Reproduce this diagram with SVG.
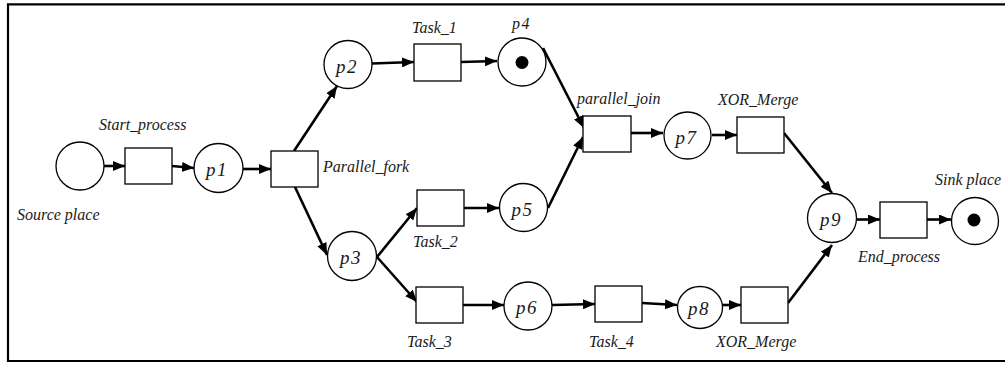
<svg xmlns="http://www.w3.org/2000/svg" width="1005" height="365" viewBox="0 0 1005 365">
<style>
.pl{fill:#fff;stroke:#000;stroke-width:1.3}
.tr{fill:#fff;stroke:#000;stroke-width:1.3}
.tk{fill:#000}
.lb{font-family:"Liberation Serif","Times New Roman",serif;font-style:italic;font-size:16px;fill:#1a1a1a}
.pn{font-family:"Liberation Serif","Times New Roman",serif;font-style:italic;font-size:19px;fill:#1a1a1a;text-anchor:middle;letter-spacing:1.5px}
.ar{stroke:#000;stroke-width:2.6;fill:none;marker-end:url(#ah)}
</style>
<defs>
<marker id="ah" markerUnits="userSpaceOnUse" markerWidth="12" markerHeight="10" refX="12" refY="5" orient="auto">
<path d="M0,0 L12,5 L0,10 Z" fill="#000"/>
</marker>
</defs>
<rect width="1005" height="365" fill="#fff"/>
<path d="M1005,4.3 H8 V361 H1005" fill="none" stroke="#000" stroke-width="2.2"/>

<g id="connectors">
<line class="ar" x1="104" y1="166" x2="125" y2="166"/>
<line class="ar" x1="172" y1="166" x2="194" y2="168"/>
<line class="ar" x1="243" y1="169" x2="271" y2="169"/>
<line class="ar" x1="294" y1="151" x2="337" y2="86"/>
<line class="ar" x1="295" y1="187" x2="327" y2="255"/>
<line class="ar" x1="372" y1="63.5" x2="414" y2="62"/>
<line class="ar" x1="461" y1="62" x2="497" y2="61"/>
<line class="ar" x1="543" y1="48" x2="584" y2="128"/>
<line class="ar" x1="548" y1="208" x2="583" y2="137"/>
<line class="ar" x1="631" y1="133" x2="663" y2="133"/>
<line class="ar" x1="712" y1="135" x2="737" y2="135"/>
<line class="ar" x1="784" y1="133" x2="832" y2="193"/>
<line class="ar" x1="377" y1="257" x2="417" y2="208"/>
<line class="ar" x1="377" y1="257" x2="417" y2="302"/>
<line class="ar" x1="464" y1="208" x2="499" y2="208"/>
<line class="ar" x1="463" y1="305" x2="504" y2="305"/>
<line class="ar" x1="552" y1="305" x2="595" y2="304"/>
<line class="ar" x1="642" y1="303" x2="677" y2="305"/>
<line class="ar" x1="722" y1="305" x2="741" y2="305"/>
<line class="ar" x1="788" y1="303" x2="832" y2="245"/>
<line class="ar" x1="857" y1="219.5" x2="880" y2="219.5"/>
<line class="ar" x1="927" y1="219.5" x2="951" y2="219.5"/>
</g>

<g id="source_place">
<circle class="pl" cx="80" cy="166" r="24"/>
<text class="lb" x="17" y="220">Source place</text>
</g>
<g id="start_process">
<rect class="tr" x="125" y="148" width="47" height="36"/>
<text class="lb" x="99" y="130">Start_process</text>
</g>
<g id="p1">
<circle class="pl" cx="218.5" cy="168" r="24.5"/>
<text class="pn" x="217" y="176">p1</text>
</g>
<g id="parallel_fork">
<rect class="tr" x="271" y="151" width="47" height="36"/>
<text class="lb" x="323" y="172">Parallel_fork</text>
</g>
<g id="p2">
<circle class="pl" cx="348" cy="64.5" r="24"/>
<text class="pn" x="347" y="72.5">p2</text>
</g>
<g id="task_1">
<rect class="tr" x="414" y="44" width="47" height="37"/>
<text class="lb" x="412" y="33">Task_1</text>
</g>
<g id="p4">
<circle class="pl" cx="522" cy="62" r="24"/>
<circle class="tk" cx="522" cy="62.5" r="6.5"/>
<text class="lb" x="512" y="29" style="letter-spacing:1.5px">p4</text>
</g>
<g id="p3">
<circle class="pl" cx="352" cy="256" r="24.5"/>
<text class="pn" x="351" y="264">p3</text>
</g>
<g id="task_2">
<rect class="tr" x="417" y="190" width="47" height="36"/>
<text class="lb" x="413" y="247">Task_2</text>
</g>
<g id="p5">
<circle class="pl" cx="523.5" cy="207.5" r="24"/>
<text class="pn" x="522.5" y="215.5">p5</text>
</g>
<g id="parallel_join">
<rect class="tr" x="583" y="116" width="48" height="36"/>
<text class="lb" x="577" y="104">parallel_join</text>
</g>
<g id="p7">
<circle class="pl" cx="687.5" cy="135.5" r="23.5"/>
<text class="pn" x="686.5" y="143.5">p7</text>
</g>
<g id="xor_merge_top">
<rect class="tr" x="737" y="117" width="47" height="36"/>
<text class="lb" x="718" y="105">XOR_Merge</text>
</g>
<g id="task_3">
<rect class="tr" x="416" y="287" width="47" height="36"/>
<text class="lb" x="407" y="347">Task_3</text>
</g>
<g id="p6">
<circle class="pl" cx="528" cy="306" r="24"/>
<text class="pn" x="527" y="314">p6</text>
</g>
<g id="task_4">
<rect class="tr" x="595" y="286" width="47" height="36"/>
<text class="lb" x="589" y="347">Task_4</text>
</g>
<g id="p8">
<ellipse class="pl" cx="700" cy="307.5" rx="22.5" ry="21"/>
<text class="pn" x="699" y="315">p8</text>
</g>
<g id="xor_merge_bottom">
<rect class="tr" x="741" y="287" width="47" height="36"/>
<text class="lb" x="716" y="347">XOR_Merge</text>
</g>
<g id="p9">
<circle class="pl" cx="832" cy="218" r="24.5"/>
<text class="pn" x="831" y="226">p9</text>
</g>
<g id="end_process">
<rect class="tr" x="880" y="202" width="47" height="36"/>
<text class="lb" x="858" y="262">End_process</text>
</g>
<g id="sink_place">
<circle class="pl" cx="975" cy="221" r="23.5"/>
<circle class="tk" cx="974" cy="220" r="6.5"/>
<text class="lb" x="935" y="185">Sink place</text>
</g>
</svg>
